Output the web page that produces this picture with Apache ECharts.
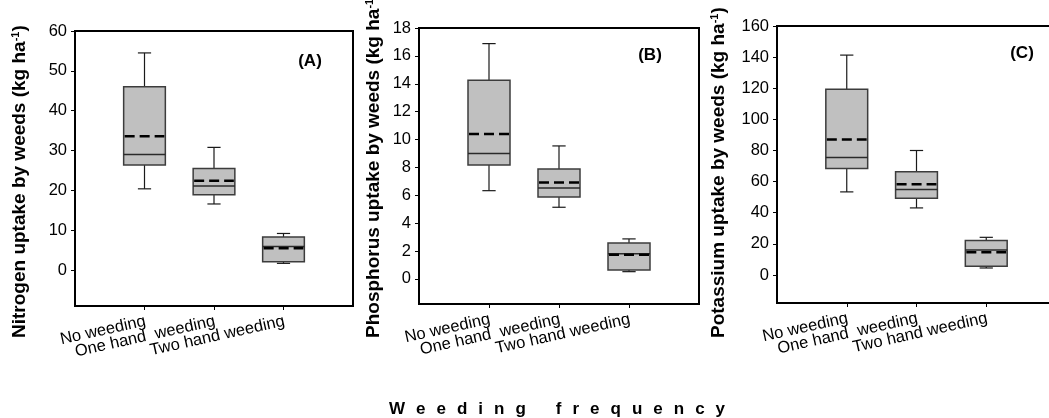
<!DOCTYPE html>
<html>
<head>
<meta charset="utf-8">
<script src="https://cdn.jsdelivr.net/npm/echarts@6/dist/echarts.min.js"></script>
<style>
html,body{margin:0;padding:0;background:#fff;}
#chart{width:1049px;height:418px;}
</style>
</head>
<body>
<div id="chart"></div>
<script>
// ---- data ----
const categories = ['No weeding', 'One hand  weeding', 'Two hand weeding'];

const nitrogenLow    = [20.4, 16.6, 1.7];
const nitrogenQ1     = [26.4, 18.9, 2.1];
const nitrogenMedian = [29.0, 21.1, 5.9];
const nitrogenQ3     = [46.0, 25.5, 8.3];
const nitrogenHigh   = [54.5, 30.8, 9.2];
const nitrogenMean   = [33.6, 22.4, 5.5];
const nitrogenTicks  = [0, 10, 20, 30, 40, 50, 60];

const phosphorusLow    = [6.33, 5.14, 0.52];
const phosphorusQ1     = [8.18, 5.88, 0.64];
const phosphorusMedian = [9.0, 6.53, 1.81];
const phosphorusQ3     = [14.25, 7.89, 2.58];
const phosphorusHigh   = [16.88, 9.54, 2.87];
const phosphorusMean   = [10.4, 6.91, 1.74];
const phosphorusTicks  = [0, 2, 4, 6, 8, 10, 12, 14, 16, 18];

const potassiumLow    = [53.4, 43.1, 4.5];
const potassiumQ1     = [68.4, 49.3, 5.6];
const potassiumMedian = [75.5, 54.9, 16.1];
const potassiumQ3     = [119.4, 66.3, 22.1];
const potassiumHigh   = [141.3, 80.0, 24.2];
const potassiumMean   = [87.1, 58.3, 14.6];
const potassiumTicks  = [0, 20, 40, 60, 80, 100, 120, 140, 160];

const yTitles = ['Nitrogen uptake by weeds (kg ha', 'Phosphorus uptake by weeds (kg ha', 'Potassium uptake by weeds (kg ha'];
const panelLabels = ['(A)', '(B)', '(C)'];
const xTitle = 'Weeding frequency';

// category slots: empty slot at each end of the axis, categories at 1..3
const xSlots = [''].concat(categories, ['']);

// ---- layout ----
const panels = [
  {grid:{left:75, top:31, width:278, height:275}, yMin:-9, yMax:60, ticks:nitrogenTicks,
   stats:[nitrogenLow, nitrogenQ1, nitrogenMedian, nitrogenQ3, nitrogenHigh, nitrogenMean],
   titleX:20, labelPos:[310, 61]},
  {grid:{left:419, top:28, width:280, height:276}, yMin:-1.8, yMax:18, ticks:phosphorusTicks,
   stats:[phosphorusLow, phosphorusQ1, phosphorusMedian, phosphorusQ3, phosphorusHigh, phosphorusMean],
   titleX:374, labelPos:[650, 55]},
  {grid:{left:777, top:26, width:279, height:277}, yMin:-18, yMax:160, ticks:potassiumTicks,
   stats:[potassiumLow, potassiumQ1, potassiumMedian, potassiumQ3, potassiumHigh, potassiumMean],
   titleX:719, labelPos:[1022, 53]}
];

const FONT = 'Liberation Sans, Arial, sans-serif';
const showSlot = i => i >= 1 && i <= categories.length;

function renderBox(params, api) {
  const x = api.value(0);
  const pt = v => api.coord([x, v]);
  const unit = api.coord([2, 0])[0] - api.coord([1, 0])[0];
  const cx = pt(api.value(1))[0];
  const yLow = pt(api.value(1))[1];
  const yQ1 = pt(api.value(2))[1];
  const yMed = pt(api.value(3))[1];
  const yQ3 = pt(api.value(4))[1];
  const yHigh = pt(api.value(5))[1];
  const yMean = pt(api.value(6))[1];
  const half = unit * 0.3;
  const cap = unit * 0.095;
  const wStyle = {stroke:'#1a1a1a', lineWidth:1.2};
  const line = (x1, y1, x2, y2, style) => ({type:'line', shape:{x1, y1, x2, y2}, style});
  return {type:'group', children:[
    line(cx, yLow, cx, yQ1, wStyle),
    line(cx, yQ3, cx, yHigh, wStyle),
    line(cx - cap, yLow, cx + cap, yLow, wStyle),
    line(cx - cap, yHigh, cx + cap, yHigh, wStyle),
    {type:'rect', shape:{x:cx - half, y:yQ3, width:2 * half, height:yQ1 - yQ3},
     style:{fill:'#c0c0c0', stroke:'#3c3c3c', lineWidth:1.5}},
    line(cx - half, yMed, cx + half, yMed, {stroke:'#2a2a2a', lineWidth:1.5}),
    line(cx - half + 1, yMean, cx + half - 1, yMean, {stroke:'#000', lineWidth:2.5, lineDash:[10, 5]})
  ]};
}

const baseGraphics = [
  ...panels.map((p, i) => ({
    type:'text', x:p.titleX, y:338, rotation:Math.PI / 2, z:100,
    style:{
      text:'{b|' + yTitles[i] + '}{s|-1}{b|)}',
      align:'left', verticalAlign:'middle',
      rich:{
        b:{fontSize:19, fontWeight:'bold', fontFamily:FONT, fill:'#000', color:'#000'},
        s:{fontSize:11, fontWeight:'bold', fontFamily:FONT, fill:'#000', color:'#000', verticalAlign:'top'}
      }
    }
  })),
  ...panels.map((p, i) => ({
    type:'text', x:p.labelPos[0], y:p.labelPos[1], z:100,
    style:{text:panelLabels[i], align:'center', verticalAlign:'middle', fontSize:17, fontWeight:'bold', fontFamily:FONT, fill:'#000'}
  })),
  {
    type:'text', x:557, y:409, z:100,
    style:{
      text: xTitle.split('').map(ch => ch === ' ' ? '{sp| }' : '{l|' + ch + '}').join(''),
      align:'center', verticalAlign:'middle',
      rich:{
        l:{fontSize:17, fontWeight:'bold', fontFamily:FONT, fill:'#000', color:'#000', padding:[0, 5.5, 0, 5.5]},
        sp:{fontSize:17, fontFamily:FONT, width:19}
      }
    }
  }
];

const option = {
  animation:false,
  backgroundColor:'#fff',
  grid: panels.map(p => Object.assign({show:true, borderColor:'#000', borderWidth:2, backgroundColor:'transparent', containLabel:false, outerBoundsMode:'none'}, p.grid)),
  xAxis: panels.map((p, i) => ({
    type:'category', gridIndex:i, data:xSlots, boundaryGap:false,
    axisLine:{show:true, onZero:false, lineStyle:{color:'#000', width:2}},
    axisTick:{show:true, inside:false, length:4, interval:(idx) => showSlot(idx), lineStyle:{color:'#000', width:1}},
    axisLabel:{show:false},
    splitLine:{show:false}
  })),
  yAxis: panels.map((p, i) => ({
    type:'value', gridIndex:i, min:p.yMin, max:p.yMax,
    axisLine:{show:true, onZero:false, lineStyle:{color:'#000', width:2}},
    axisTick:{show:true, inside:false, length:4, customValues:p.ticks, lineStyle:{color:'#000', width:1}},
    axisLabel:{customValues:p.ticks, margin:8, fontSize:16.5, fontFamily:FONT, color:'#000',
      showMinLabel:true, showMaxLabel:true, hideOverlap:false},
    splitLine:{show:false}
  })),
  series: panels.map((p, i) => ({
    type:'custom', xAxisIndex:i, yAxisIndex:i, clip:false, z:10,
    renderItem: renderBox,
    encode:{x:0, y:[1, 2, 3, 4, 5, 6]},
    data: categories.map((c, k) => [k + 1, p.stats[0][k], p.stats[1][k], p.stats[2][k], p.stats[3][k], p.stats[4][k], p.stats[5][k]])
  })),
  graphic: baseGraphics
};

const chart = echarts.init(document.getElementById('chart'), null, {renderer:'canvas'});
chart.setOption(option);

// category tick labels, placed at the category positions given by each x axis
const labelGraphics = [];
panels.forEach((p, i) => {
  categories.forEach((c, k) => {
    const pos = chart.convertToPixel({gridIndex:i}, [k + 1, p.yMin]);
    labelGraphics.push({
      type:'text', x:pos[0] + 1, y:pos[1] + 15, rotation:12.5 * Math.PI / 180, z:100,
      style:{text:c, align:'right', verticalAlign:'middle', fontSize:16.5, fontFamily:FONT, fill:'#000'}
    });
  });
});
chart.setOption({graphic: baseGraphics.concat(labelGraphics)});
</script>
</body>
</html>
